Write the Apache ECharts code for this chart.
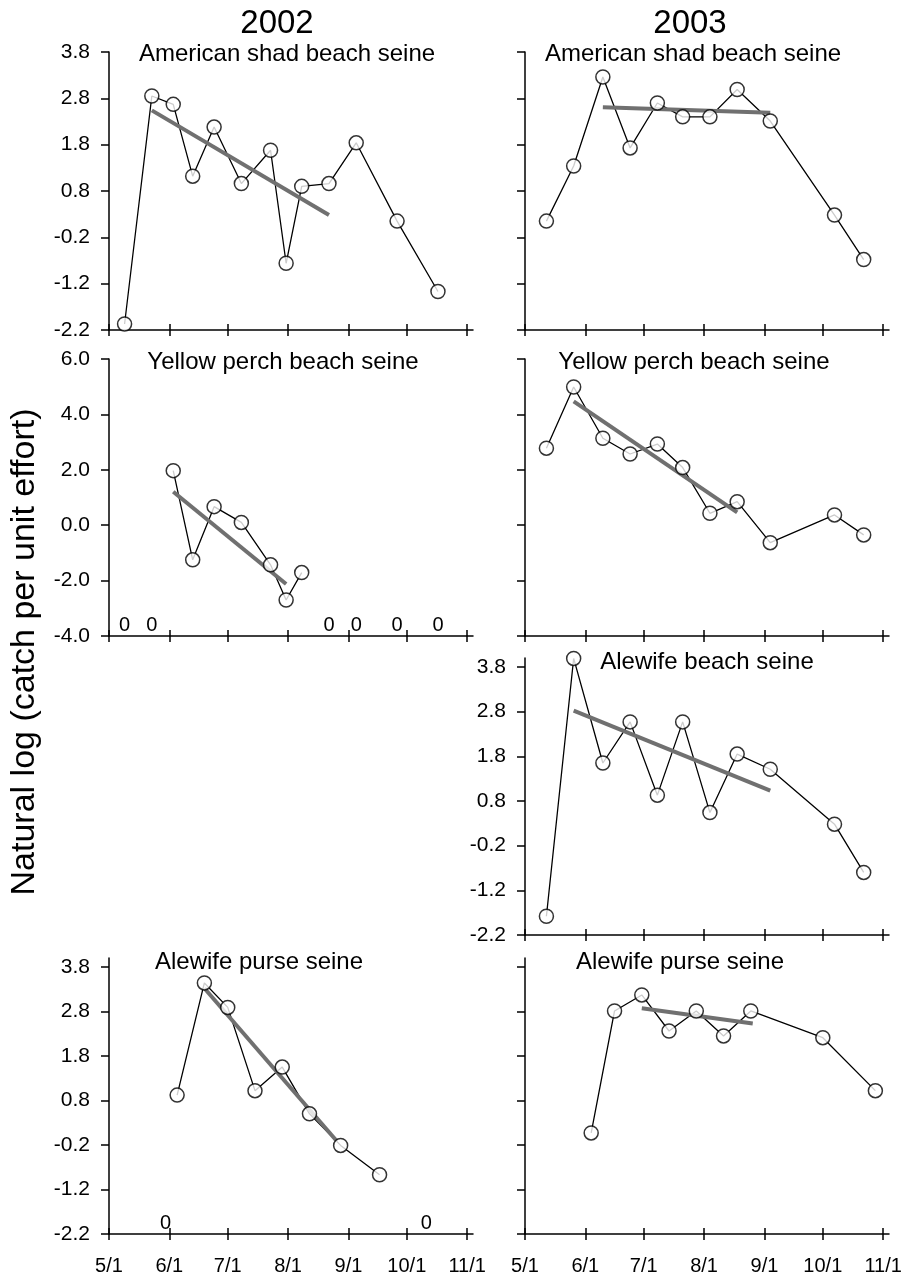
<!DOCTYPE html>
<html>
<head>
<meta charset="utf-8">
<title>Natural log CPUE 2002-2003</title>
<script src="https://cdn.jsdelivr.net/npm/echarts@6.0.0/dist/echarts.min.js"></script>
<style>
  html, body { margin: 0; padding: 0; background: #fff; }
  #chart { width: 909px; height: 1276px; }
</style>
</head>
<body>
<div id="chart"></div>
<script>
// x ticks (month starts), y tick sets
const monthTicks = ['05-01', '06-01', '07-01', '08-01', '09-01', '10-01', '11-01'];
const yTicksLog = [-2.2, -1.2, -0.2, 0.8, 1.8, 2.8, 3.8];
const yTicksPerch = [-4, -2, 0, 2, 4, 6];

// 2002 beach seine sampling
const beach02Dates = ['2002-05-09', '2002-05-23', '2002-06-03', '2002-06-13', '2002-06-24', '2002-07-08',
  '2002-07-23', '2002-07-31', '2002-08-08', '2002-08-22', '2002-09-05', '2002-09-26', '2002-10-17'];
const shad02 = [-2.07, 2.85, 2.67, 1.12, 2.18, 0.96, 1.68, -0.76, 0.90, 0.96, 1.84, 0.15, -1.37];
const shad02TrendDates = ['2002-05-23', '2002-08-22'];
const shad02Trend = [2.54, 0.28];

const perch02Dates = ['2002-06-03', '2002-06-13', '2002-06-24', '2002-07-08', '2002-07-23', '2002-07-31', '2002-08-08'];
const perch02 = [1.97, -1.25, 0.67, 0.10, -1.43, -2.70, -1.71];
const perch02TrendDates = ['2002-06-03', '2002-07-31'];
const perch02Trend = [1.21, -2.12];
const perch02Zeros = ['2002-05-09', '2002-05-23', '2002-08-22', '2002-09-05', '2002-09-26', '2002-10-17'];

// 2002 purse seine
const purse02Dates = ['2002-06-05', '2002-06-19', '2002-07-01', '2002-07-15', '2002-07-29', '2002-08-12', '2002-08-28', '2002-09-17'];
const alewifePurse02 = [0.92, 3.44, 2.89, 1.02, 1.55, 0.50, -0.21, -0.87];
const alewifePurse02TrendDates = ['2002-06-19', '2002-08-26'];
const alewifePurse02Trend = [3.32, -0.11];
const alewifePurse02Zeros = ['2002-05-30', '2002-10-11'];

// 2003 beach seine sampling
const beach03Dates = ['2003-05-12', '2003-05-26', '2003-06-10', '2003-06-24', '2003-07-08', '2003-07-21',
  '2003-08-04', '2003-08-18', '2003-09-04', '2003-10-07', '2003-10-22'];
const shad03 = [0.15, 1.34, 3.26, 1.73, 2.70, 2.40, 2.40, 2.99, 2.31, 0.28, -0.68];
const shad03TrendDates = ['2003-06-10', '2003-09-04'];
const shad03Trend = [2.61, 2.49];

const perch03 = [2.78, 4.99, 3.14, 2.57, 2.93, 2.08, 0.43, 0.85, -0.63, 0.37, -0.35];
const perch03TrendDates = ['2003-05-26', '2003-08-18'];
const perch03Trend = [4.47, 0.46];

const alewifeBeach03 = [-1.78, 3.99, 1.65, 2.57, 0.93, 2.57, 0.54, 1.85, 1.51, 0.28, -0.80];
const alewifeBeach03TrendDates = ['2003-05-26', '2003-09-04'];
const alewifeBeach03Trend = [2.82, 1.03];

// 2003 purse seine
const purse03Dates = ['2003-06-04', '2003-06-16', '2003-06-30', '2003-07-14', '2003-07-28', '2003-08-11', '2003-08-25', '2003-10-01', '2003-10-28'];
const alewifePurse03 = [0.07, 2.81, 3.17, 2.36, 2.81, 2.25, 2.81, 2.21, 1.02];
const alewifePurse03TrendDates = ['2003-06-30', '2003-08-26'];
const alewifePurse03Trend = [2.87, 2.53];

const FONT = '"Liberation Sans", Arial, Helvetica, sans-serif';
const colLeft = [109, 525];
const gridW = 364;
const rows = [
  { top: 52, height: 278, min: -2.2, max: 3.8, ticks: yTicksLog },
  { top: 359, height: 277, min: -4, max: 6, ticks: yTicksPerch },
  { top: 658, height: 277, min: -2.2, max: 4.0, ticks: yTicksLog },
  { top: 958, height: 277, min: -2.2, max: 4.0, ticks: yTicksLog }
];

const panels = [
  { col: 0, row: 0, year: 2002, name: 'American shad beach seine', tx: 287, ty: 54,
    dates: beach02Dates, values: shad02, trendDates: shad02TrendDates, trend: shad02Trend, zeros: [], yLabels: true },
  { col: 1, row: 0, year: 2003, name: 'American shad beach seine', tx: 693, ty: 54,
    dates: beach03Dates, values: shad03, trendDates: shad03TrendDates, trend: shad03Trend, zeros: [], yLabels: false },
  { col: 0, row: 1, year: 2002, name: 'Yellow perch beach seine', tx: 283, ty: 362,
    dates: perch02Dates, values: perch02, trendDates: perch02TrendDates, trend: perch02Trend, zeros: perch02Zeros, yLabels: true },
  { col: 1, row: 1, year: 2003, name: 'Yellow perch beach seine', tx: 694, ty: 362,
    dates: beach03Dates, values: perch03, trendDates: perch03TrendDates, trend: perch03Trend, zeros: [], yLabels: false },
  { col: 1, row: 2, year: 2003, name: 'Alewife beach seine', tx: 707, ty: 662,
    dates: beach03Dates, values: alewifeBeach03, trendDates: alewifeBeach03TrendDates, trend: alewifeBeach03Trend, zeros: [], yLabels: true },
  { col: 0, row: 3, year: 2002, name: 'Alewife purse seine', tx: 259, ty: 962,
    dates: purse02Dates, values: alewifePurse02, trendDates: alewifePurse02TrendDates, trend: alewifePurse02Trend, zeros: alewifePurse02Zeros, yLabels: true },
  { col: 1, row: 3, year: 2003, name: 'Alewife purse seine', tx: 680, ty: 962,
    dates: purse03Dates, values: alewifePurse03, trendDates: alewifePurse03TrendDates, trend: alewifePurse03Trend, zeros: [], yLabels: false }
];

// local-time timestamp from 'YYYY-MM-DD'
const ts = s => { const [y, m, d] = s.split('-').map(Number); return new Date(y, m - 1, d).getTime(); };
const zip = (xs, ys) => xs.map((x, i) => [ts(x), ys[i]]);
const blackLine = { color: '#000', width: 1.5 };
const fmtDate = v => { const d = new Date(v); return (d.getMonth() + 1) + '/' + d.getDate(); };

const grid = [], xAxis = [], yAxis = [], series = [];
const graphic = [
  { type: 'text', x: 277, y: 24, style: { text: '2002', fontSize: 33, fontFamily: FONT, fill: '#000', textAlign: 'center', textVerticalAlign: 'middle' } },
  { type: 'text', x: 690, y: 24, style: { text: '2003', fontSize: 33, fontFamily: FONT, fill: '#000', textAlign: 'center', textVerticalAlign: 'middle' } },
  { type: 'text', x: 25, y: 652, rotation: Math.PI / 2,
    style: { text: 'Natural log (catch per unit effort)', fontSize: 34, fontFamily: FONT, fill: '#000', textAlign: 'center', textVerticalAlign: 'middle' } }
];

panels.forEach((p, i) => {
  const r = rows[p.row];
  const ticks = monthTicks.map(m => ts(p.year + '-' + m));
  const xMin = ts(p.year + '-05-01'), xMax = ts(p.year + '-11-04');
  const bottomRow = p.row === 3;
  grid.push({ left: colLeft[p.col], top: r.top, width: gridW, height: r.height });

  // main x axis: line, lower half of ticks, labels
  xAxis.push({
    type: 'value', gridIndex: i, position: 'bottom', min: xMin, max: xMax,
    axisLine: { show: true, onZero: false, lineStyle: blackLine },
    axisTick: { show: true, length: 6, customValues: ticks, lineStyle: blackLine },
    axisLabel: { show: bottomRow, customValues: ticks, formatter: fmtDate, color: '#000', fontSize: 20, fontFamily: FONT, margin: 22 },
    splitLine: { show: false }
  });
  // helper axis lifted 6px: upper half of ticks, so they cross the axis line
  xAxis.push({
    type: 'value', gridIndex: i, position: 'bottom', offset: -6, min: xMin, max: xMax,
    axisLine: { show: false, onZero: false },
    axisTick: { show: true, length: 6, customValues: ticks, lineStyle: blackLine },
    axisLabel: { show: false },
    splitLine: { show: false }
  });
  yAxis.push({
    type: 'value', gridIndex: i, min: r.min, max: r.max,
    axisLine: { show: true, onZero: false, lineStyle: blackLine },
    axisTick: { show: true, length: 8, customValues: r.ticks, lineStyle: blackLine },
    axisLabel: { show: p.yLabels, customValues: r.ticks, formatter: v => v.toFixed(1), color: '#000', fontSize: 21, fontFamily: FONT, margin: 19 },
    splitLine: { show: false }
  });

  const xi = i * 2;
  series.push({
    type: 'line', xAxisIndex: xi, yAxisIndex: i, data: zip(p.dates, p.values),
    showSymbol: false, lineStyle: { color: '#000', width: 1.3 }, z: 2, silent: true
  });
  series.push({
    type: 'line', xAxisIndex: xi, yAxisIndex: i, data: zip(p.trendDates, p.trend),
    showSymbol: false, lineStyle: { color: '#707070', width: 4 }, z: 3, silent: true
  });
  series.push({
    type: 'scatter', xAxisIndex: xi, yAxisIndex: i, data: zip(p.dates, p.values),
    symbol: 'circle', symbolSize: 14, clip: false,
    itemStyle: { color: '#fff', borderColor: '#000', borderWidth: 1.5 }, z: 4, silent: true
  });
  if (p.zeros.length) {
    series.push({
      type: 'scatter', xAxisIndex: xi, yAxisIndex: i, data: p.zeros.map(d => [ts(d), r.min]),
      symbol: 'circle', symbolSize: 1, itemStyle: { color: '#000', opacity: 0 }, z: 5, silent: true,
      label: { show: true, position: 'top', distance: 0, formatter: '0', color: '#000', opacity: 1, fontSize: 20, fontFamily: FONT }
    });
  }
  graphic.push({ type: 'text', x: p.tx, y: p.ty,
    style: { text: p.name, fontSize: 24, fontFamily: FONT, fill: '#000', textAlign: 'center', textVerticalAlign: 'middle' } });
});

const chart = echarts.init(document.getElementById('chart'), null, { renderer: 'canvas' });
chart.setOption({
  animation: false,
  backgroundColor: '#fff',
  grid, xAxis, yAxis, series, graphic
});
</script>
</body>
</html>
